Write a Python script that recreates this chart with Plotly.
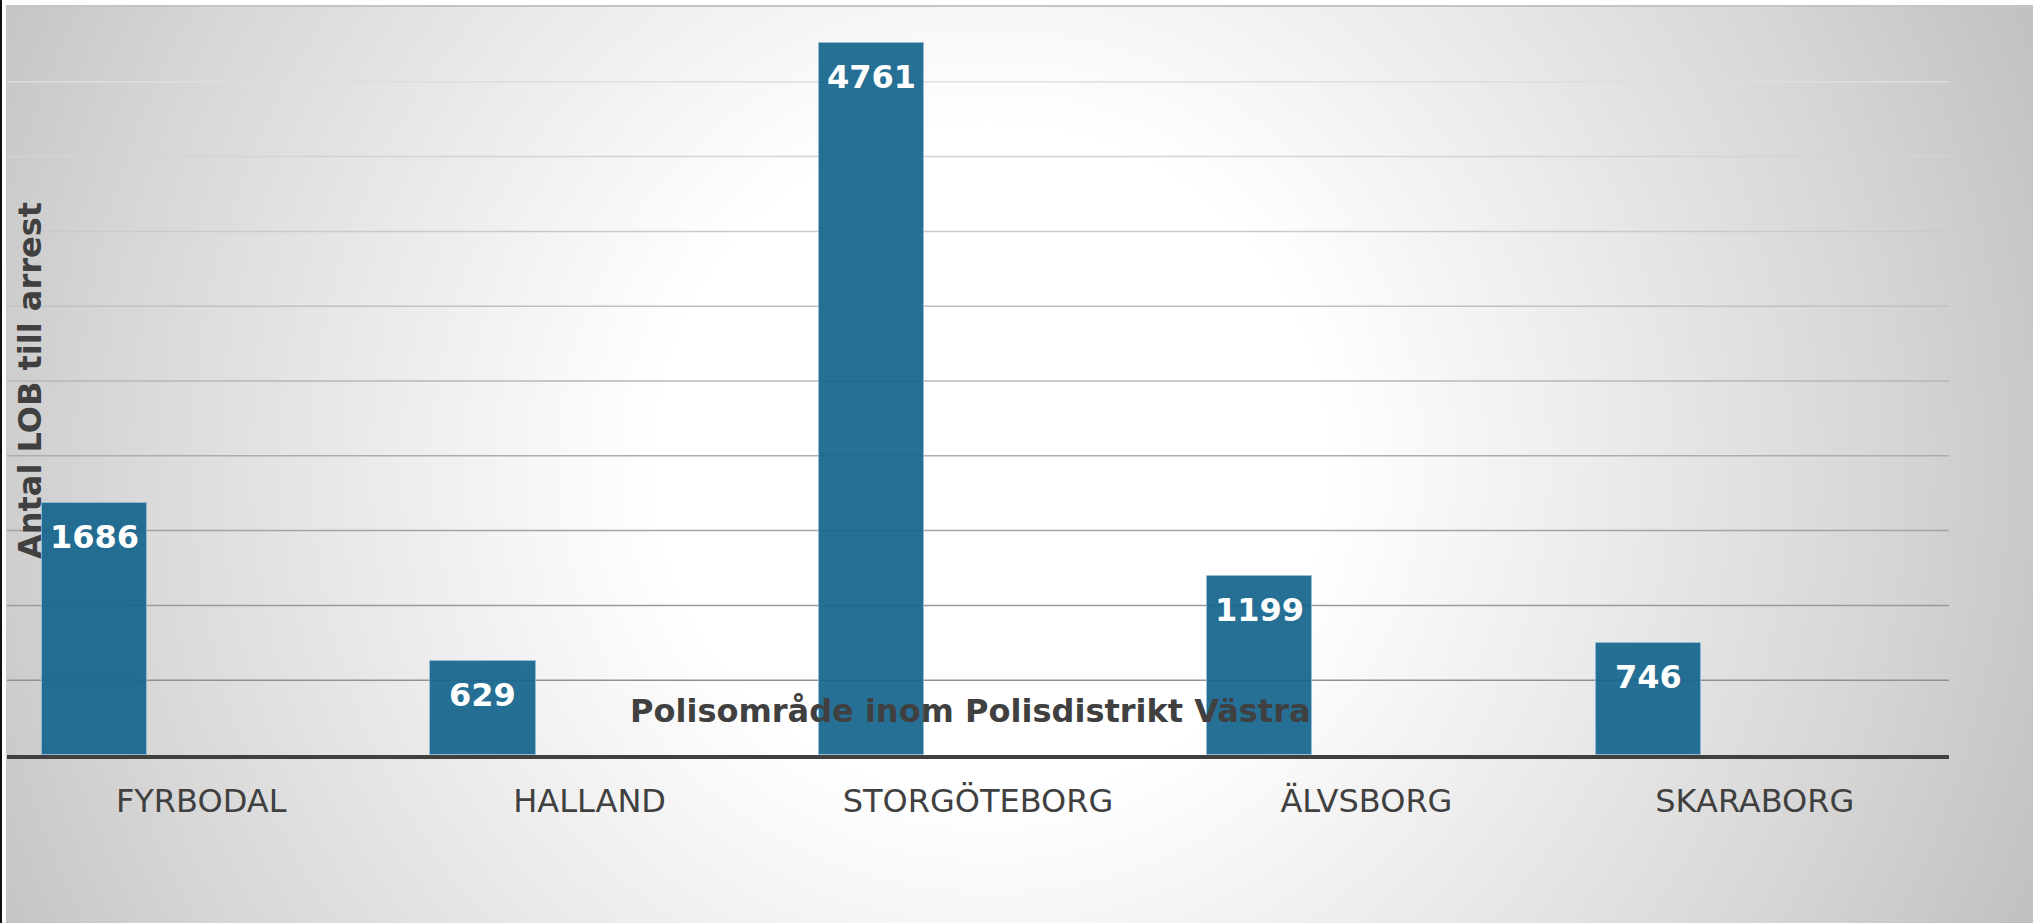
import base64
import plotly.graph_objects as go

# ---- data ----
categories = ["FYRBODAL", "HALLAND", "STORGÖTEBORG", "ÄLVSBORG", "SKARABORG"]
values = [1686, 629, 4761, 1199, 746]
grid_values = [500, 1000, 1500, 2000, 2500, 3000, 3500, 4000, 4500]
y_title = "Antal LOB till arrest"
x_title = "Polisområde inom Polisdistrikt Västra"

W, H = 2033, 923
ML, MR, MT, MB = 7, 84, 7, 168
PW, PH = W - ML - MR, H - MT - MB

BAR_OFFSET = -0.41
BAR_WIDTH = 0.271
FONT = "DejaVu Sans, Verdana, sans-serif"
TXT = "#404040"

# radial gradient background as svg
svg = f'''<svg xmlns="http://www.w3.org/2000/svg" width="{W-6}" height="{H-6}" viewBox="0 0 {W-6} {H-6}">
<defs><radialGradient id="g" gradientUnits="userSpaceOnUse" cx="985" cy="455" r="1120">
<stop offset="0" stop-color="#ffffff"/>
<stop offset="0.3" stop-color="#ffffff"/>
<stop offset="0.55" stop-color="#ebebeb"/>
<stop offset="0.8" stop-color="#d6d6d6"/>
<stop offset="1" stop-color="#c2c2c2"/>
</radialGradient></defs>
<rect width="100%" height="100%" fill="url(#g)"/></svg>'''
src = "data:image/svg+xml;base64," + base64.b64encode(svg.encode()).decode()

fig = go.Figure()
fig.add_trace(go.Bar(
    x=list(range(len(categories))), y=values,
    offset=BAR_OFFSET, width=BAR_WIDTH,
    marker=dict(color="rgba(22,101,141,0.93)",
                line=dict(color="rgba(150,190,215,0.8)", width=1)),
    hoverinfo="x+y", showlegend=False,
))

annotations = []
for i, v in enumerate(values):
    annotations.append(dict(
        x=i + BAR_OFFSET + BAR_WIDTH / 2, y=v, xref="x", yref="y",
        text=f"<b>{v}</b>", showarrow=False, yanchor="middle", yshift=-34,
        font=dict(family=FONT, size=32, color="white"),
    ))
annotations.append(dict(
    x=(30 - ML) / PW, y=0.5, xref="paper", yref="paper",
    text=f"<b>{y_title}</b>", textangle=-90, showarrow=False,
    xanchor="center", yanchor="middle",
    font=dict(family=FONT, size=32, color=TXT),
))
annotations.append(dict(
    x=(970 - ML) / PW, y=1 - (711 - MT) / PH, xref="paper", yref="paper",
    text=f"<b>{x_title}</b>", showarrow=False,
    xanchor="center", yanchor="middle",
    font=dict(family=FONT, size=32, color=TXT),
))

shapes = []
n = len(grid_values)
for k, gv in enumerate(grid_values):
    t = k / (n - 1)
    c = int(145 + t * (222 - 145))
    shapes.append(dict(type="line", xref="paper", yref="y", x0=0, x1=1, y0=gv, y1=gv,
                       line=dict(color=f"rgb({c},{c},{c})", width=1.5), layer="below"))
# chart frame details
shapes.append(dict(type="rect", xref="paper", yref="paper",
                   x0=-ML / PW, x1=(2 - ML) / PW, y0=-MB / PH, y1=1 + MT / PH,
                   fillcolor="#111111", line=dict(width=0), layer="above"))
shapes.append(dict(type="line", xref="paper", yref="paper",
                   x0=(6 - ML) / PW, x1=(W - ML) / PW, y0=1 + 1 / PH, y1=1 + 1 / PH,
                   line=dict(color="#c4c4c4", width=2), layer="above"))

fig.update_layout(
    width=W, height=H,
    margin=dict(l=ML, r=MR, t=MT, b=MB, pad=0),
    paper_bgcolor="white", plot_bgcolor="rgba(0,0,0,0)",
    images=[dict(source=src, xref="paper", yref="paper",
                 x=(6 - ML) / PW, y=1 + (MT - 6) / PH,
                 sizex=(W - 6) / PW, sizey=(H - 6) / PH,
                 xanchor="left", yanchor="top", sizing="stretch", layer="below")],
    xaxis=dict(
        tickmode="array", tickvals=list(range(len(categories))), ticktext=categories,
        range=[-0.5, len(categories) - 0.5],
        showgrid=False, zeroline=False, showline=True, linecolor=TXT, linewidth=3.5,
        ticks="", ticklabelstandoff=15,
        tickfont=dict(family=FONT, size=32, color=TXT),
    ),
    yaxis=dict(range=[0, 5000], showgrid=False, zeroline=False, showticklabels=False,
               showline=False, ticks=""),
    annotations=annotations, shapes=shapes,
    bargap=0, showlegend=False,
)

fig.write_html("out.html", config={"displayModeBar": False},
               post_script="document.body.style.margin='0px';document.body.style.overflow='hidden';")
